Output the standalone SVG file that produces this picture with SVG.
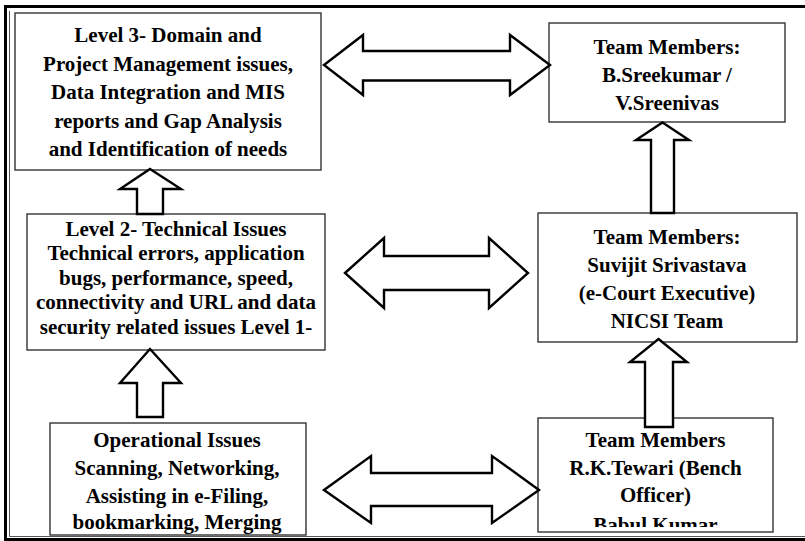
<svg xmlns="http://www.w3.org/2000/svg" width="805" height="541" viewBox="0 0 805 541">
  <style>
    .box { fill: #ffffff; stroke: #333333; stroke-width: 1.4; }
    .arrow { fill: #ffffff; stroke: #000000; stroke-width: 2.4; stroke-linejoin: miter; }
    .frame { fill: none; stroke: #000000; stroke-width: 3; }
    .inner { fill: none; stroke: #555555; stroke-width: 1; }
    .label { font-family: "Liberation Serif", "Times New Roman", serif; font-weight: bold; font-size: 21px; fill: #000000; text-anchor: middle; }
  </style>
  <defs>
    <!-- the last line of the bottom-right box is cut by its lower edge -->
    <clipPath id="clip-team-bottom">
      <rect x="538" y="418" width="235" height="109"/>
    </clipPath>
  </defs>
  <rect width="805" height="541" fill="#ffffff"/>

  <!-- page frame -->
  <g id="frame">
    <path class="frame" d="M5.5,541 V6.5 H805"/>
    <path class="frame" d="M4,539.5 H805"/>
    <path class="inner" d="M9.5,11 V536.5 H805"/>
  </g>

  <g class="label">
    <!-- nodes -->
    <g id="level3">
      <rect class="box" x="15" y="13" width="306" height="157"/>
      <text x="168" y="42">Level 3- Domain and</text>
      <text x="168" y="70.5">Project Management issues,</text>
      <text x="168" y="99">Data Integration and MIS</text>
      <text x="168" y="127.5">reports and Gap Analysis</text>
      <text x="168" y="155.5">and Identification of needs</text>
    </g>

    <g id="team-sreekumar">
      <rect class="box" x="549" y="23" width="236" height="99"/>
      <text x="667" y="53.5">Team Members:</text>
      <text x="667" y="81.5">B.Sreekumar /</text>
      <text x="667" y="109.5">V.Sreenivas</text>
    </g>

    <g id="level2">
      <rect class="box" x="27" y="214" width="298" height="136"/>
      <text x="176" y="235.5">Level 2- Technical Issues</text>
      <text x="176" y="260">Technical errors, application</text>
      <text x="176" y="284.5">bugs, performance, speed,</text>
      <text x="176" y="309">connectivity and URL and data</text>
      <text x="176" y="333.5">security related issues Level 1-</text>
    </g>

    <g id="team-suvijit">
      <rect class="box" x="538" y="213" width="259" height="129"/>
      <text x="667" y="243.5">Team Members:</text>
      <text x="667" y="271.5">Suvijit Srivastava</text>
      <text x="667" y="299.5">(e-Court Executive)</text>
      <text x="667" y="327.5">NICSI Team</text>
    </g>

    <g id="operational">
      <rect class="box" x="50" y="423" width="256" height="112"/>
      <text x="177" y="447">Operational Issues</text>
      <text x="177" y="475">Scanning, Networking,</text>
      <text x="177" y="502.5">Assisting in e-Filing,</text>
      <text x="177" y="528.5">bookmarking, Merging</text>
    </g>

    <g id="team-tewari">
      <rect class="box" x="538" y="418" width="235" height="114"/>
      <text x="655.5" y="447">Team Members</text>
      <text x="655.5" y="475">R.K.Tewari (Bench</text>
      <text x="655.5" y="502">Officer)</text>
      <text x="655.5" y="531.5" clip-path="url(#clip-team-bottom)">Babul Kumar</text>
    </g>
  </g>

  <!-- connectors: block arrows -->
  <g id="connectors">
    <polygon class="arrow" points="324,65 363,35 363,51 510,51 510,35 550,65 510,95 510,80.5 363,80.5 363,95"/>
    <polygon class="arrow" points="345,273 384,238 384,256 489,256 489,238 528,273 489,308 489,290 384,290 384,308"/>
    <polygon class="arrow" points="324,490 371,456 371,473 492,473 492,456 539,490 492,523 492,506 371,506 371,523"/>
    <polygon class="arrow" points="150,169 181,189 163,189 163,214 137,214 137,189 120,189"/>
    <polygon class="arrow" points="150,349 181,383 163,383 163,417 137,417 137,383 120,383"/>
    <polygon class="arrow" points="662.5,122.5 689,140 674,140 674,213 651,213 651,140 636,140"/>
    <polygon class="arrow" points="658.5,339 687,362 673,362 673,427 645,427 645,362 630,362"/>
  </g>
</svg>
